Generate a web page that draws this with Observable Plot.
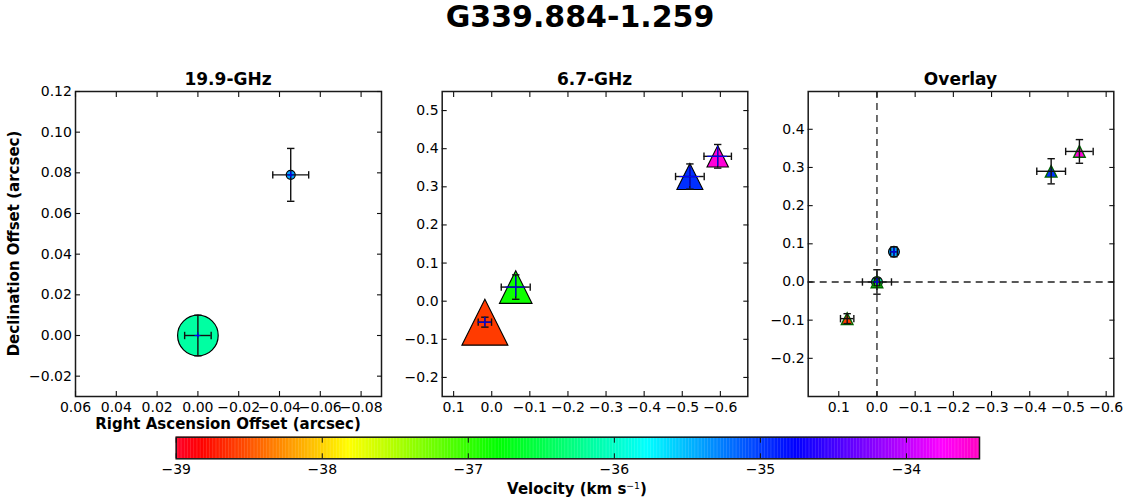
<!DOCTYPE html>
<html><head><meta charset="utf-8">
<script src="https://cdn.jsdelivr.net/npm/d3@7"></script>
<script src="https://cdn.jsdelivr.net/npm/@observablehq/plot@0.6"></script>
<style>
body{margin:0;background:#fff;}
#root{position:relative;width:1129px;height:503px;font-family:"DejaVu Sans",sans-serif;overflow:hidden;background:#fff;}
.t{position:absolute;white-space:nowrap;font-weight:bold;color:#000;text-align:center;line-height:1;}
sup{font-weight:normal;font-size:0.62em;vertical-align:0.55em;}
</style></head><body><div id="root"></div>
<script>
// ---------------- data ----------------
const mainTitle = "G339.884-1.259";
const panelTitles = ["19.9-GHz", "6.7-GHz", "Overlay"];
const xLabel = "Right Ascension Offset (arcsec)";
const yLabel = "Declination Offset (arcsec)";

// 19.9-GHz maser spots
const ra19 = [0.000, -0.0455];
const dec19 = [0.000, 0.079];
const raErr19 = [0.0065, 0.0088];
const decErr19 = [0.010, 0.013];
const vel19 = [-36.15, -35.4];
const size19 = [20.3, 4.5];

// 6.7-GHz maser spots
const ra67 = [0.018, -0.063, -0.520, -0.593];
const dec67 = [-0.055, 0.037, 0.327, 0.380];
const raErr67 = [0.0175, 0.038, 0.0376, 0.036];
const decErr67 = [0.013, 0.032, 0.033, 0.031];
const vel67 = [-38.6, -36.85, -34.95, -33.6];
const size67 = [23, 16.3, 13, 10.7];

// Overlay positions
const raOv19 = [0.000, -0.0445];
const decOv19 = [0.000, 0.079];
const raOv67 = [0.078, 0.000, -0.456, -0.530];
const decOv67 = [-0.096, 0.000, 0.290, 0.342];

// axes
const p1XTicks = [0.06, 0.04, 0.02, 0, -0.02, -0.04, -0.06, -0.08];
const p1YTicks = [-0.02, 0, 0.02, 0.04, 0.06, 0.08, 0.10, 0.12];
const p2XTicks = [0.1, 0, -0.1, -0.2, -0.3, -0.4, -0.5, -0.6];
const p2YTicks = [-0.2, -0.1, 0, 0.1, 0.2, 0.3, 0.4, 0.5];
const p3XTicks = [0.1, 0, -0.1, -0.2, -0.3, -0.4, -0.5, -0.6];
const p3YTicks = [-0.2, -0.1, 0, 0.1, 0.2, 0.3, 0.4];
const cbTicks = [-39, -38, -37, -36, -35, -34];
const velDomain = [-39, -33.5];

// gist_rainbow colormap stops
const rainbowStops = [0, 0.03, 0.215, 0.4, 0.586, 0.77, 0.954, 1];
const rainbowColors = ["rgb(255,0,41)", "rgb(255,0,0)", "rgb(255,255,0)", "rgb(0,255,0)", "rgb(0,255,255)", "rgb(0,0,255)", "rgb(255,0,255)", "rgb(255,0,191)"];

// ---------------- helpers ----------------
const colorScale = {
  type: "linear",
  domain: rainbowStops.map(t => velDomain[0] + t * (velDomain[1] - velDomain[0])),
  range: rainbowColors, interpolate: "rgb", clamp: true
};
const triSym = {draw(ctx, size) { const s = Math.sqrt(size / Math.PI); ctx.moveTo(0, -s); ctx.lineTo(s, s); ctx.lineTo(-s, s); ctx.closePath(); }};
const hCap = {draw(ctx, size) { const s = Math.sqrt(size / Math.PI); ctx.moveTo(-s, 0); ctx.lineTo(s, 0); }};
const vCap = {draw(ctx, size) { const s = Math.sqrt(size / Math.PI); ctx.moveTo(0, -s); ctx.lineTo(0, s); }};

const mk = (xs, ys, exs, eys, vs, ss) => xs.map((x, i) => ({x, y: ys[i], ex: exs[i], ey: eys[i], v: vs[i], s: ss ? ss[i] : null}));

function errMarks(data) {
  const st = {stroke: "#111", strokeWidth: 1.4};
  return [
    Plot.ruleY(data, {y: "y", x1: d => d.x - d.ex, x2: d => d.x + d.ex, ...st}),
    Plot.ruleX(data, {x: "x", y1: d => d.y - d.ey, y2: d => d.y + d.ey, ...st}),
    Plot.dot(data, {x: d => d.x - d.ex, y: "y", symbol: vCap, r: 3.7, fill: "none", ...st}),
    Plot.dot(data, {x: d => d.x + d.ex, y: "y", symbol: vCap, r: 3.7, fill: "none", ...st}),
    Plot.dot(data, {x: "x", y: d => d.y - d.ey, symbol: hCap, r: 3.7, fill: "none", ...st}),
    Plot.dot(data, {x: "x", y: d => d.y + d.ey, symbol: hCap, r: 3.7, fill: "none", ...st})
  ];
}
function crossMarks(data, capX, capY) {
  const st = {stroke: "#0000ff", strokeWidth: 1.1};
  return [
    Plot.ruleY(data, {y: "y", x1: d => d.x - Math.min(d.ex, capX), x2: d => d.x + Math.min(d.ex, capX), ...st}),
    Plot.ruleX(data, {x: "x", y1: d => d.y - Math.min(d.ey, capY), y2: d => d.y + Math.min(d.ey, capY), ...st})
  ];
}
function axisMarks(xt, yt, fmt) {
  const common = {label: null, stroke: "#111", strokeWidth: 1.1, fill: "#000", fontSize: 14};
  return [
    Plot.axisX(xt, {anchor: "bottom", tickSize: -5, tickPadding: 10.5, tickFormat: fmt, ...common}),
    Plot.axisX(xt, {anchor: "top", tickSize: -5, tickFormat: () => "", ...common}),
    Plot.axisY(yt, {anchor: "left", tickSize: -5, tickPadding: 8.6, tickFormat: fmt, ...common}),
    Plot.axisY(yt, {anchor: "right", tickSize: -5, tickFormat: () => "", ...common})
  ];
}
const svgStyle = {fontFamily: "DejaVu Sans", fontSize: "14px", color: "#000", background: "transparent", overflow: "visible"};

function place(el, left, top) {
  el.style.position = "absolute"; el.style.left = left + "px"; el.style.top = top + "px";
  root.appendChild(el);
}
function text(str, left, top, w, size, html) {
  const d = document.createElement("div");
  d.className = "t"; d.style.left = left + "px"; d.style.top = top + "px"; d.style.width = w + "px";
  d.style.fontSize = size + "px";
  if (html) d.innerHTML = str; else d.textContent = str;
  root.appendChild(d); return d;
}
const root = document.getElementById("root");

// ---------------- panel 1 ----------------
const d19 = mk(ra19, dec19, raErr19, decErr19, vel19, size19);
const d67 = mk(ra67, dec67, raErr67, decErr67, vel67, size67);
const o19 = mk(raOv19, decOv19, raErr19, decErr19, vel19, null);
const o67 = mk(raOv67, decOv67, raErr67, decErr67, vel67, null);
const f2 = d3.format(".2f"), f1 = d3.format(".1f"), fi = d3.format("d");

const p1 = Plot.plot({
  width: 390, height: 380, marginLeft: 75, marginRight: 9, marginTop: 31, marginBottom: 44,
  x: {domain: [0.06, -0.09]}, y: {domain: [-0.03, 0.12]},
  r: {type: "identity"}, color: colorScale, style: svgStyle,
  marks: [
    Plot.dot(d19, {x: "x", y: "y", r: "s", fill: "v", stroke: "#000", strokeWidth: 1.2}),
    ...errMarks(d19),
    ...crossMarks(d19, 0.0014, 0.0014),
    Plot.frame({stroke: "#1a1a1a", strokeWidth: 1.5}),
    ...axisMarks(p1XTicks, p1YTicks, f2)
  ]
});
place(p1, 0, 60);

// ---------------- panel 2 ----------------
const p2 = Plot.plot({
  width: 365, height: 380, marginLeft: 51.7, marginRight: 7.7, marginTop: 31, marginBottom: 44,
  x: {domain: [0.13, -0.672]}, y: {domain: [-0.25, 0.55]},
  r: {type: "identity"}, color: colorScale, style: svgStyle,
  marks: [
    Plot.dot(d67, {x: "x", y: "y", r: "s", symbol: triSym, fill: "v", stroke: "#000", strokeWidth: 1.1}),
    ...errMarks(d67),
    ...crossMarks(d67, 0.026, 0.026),
    Plot.frame({stroke: "#1a1a1a", strokeWidth: 1.5}),
    ...axisMarks(p2XTicks, p2YTicks, f1)
  ]
});
place(p2, 390, 60);

// ---------------- panel 3 ----------------
const p3 = Plot.plot({
  width: 374, height: 380, marginLeft: 52.7, marginRight: 15.7, marginTop: 31, marginBottom: 44,
  x: {domain: [0.18, -0.62]}, y: {domain: [-0.3, 0.499]},
  r: {type: "identity"}, color: colorScale, style: svgStyle,
  marks: [
    Plot.ruleX([0], {stroke: "#222", strokeWidth: 1.3, strokeDasharray: "7,5"}),
    Plot.ruleY([0], {stroke: "#222", strokeWidth: 1.3, strokeDasharray: "7,5"}),
    Plot.dot(o19, {x: "x", y: "y", r: 5.4, fill: "v", stroke: "#000", strokeWidth: 1.2}),
    Plot.dot(o67, {x: "x", y: "y", r: 5.8, symbol: triSym, fill: "v", stroke: "#006400", strokeWidth: 1.4}),
    ...errMarks(o67),
    ...errMarks(o19),
    ...crossMarks(o19, 0.009, 0.009),
    Plot.frame({stroke: "#1a1a1a", strokeWidth: 1.5}),
    ...axisMarks(p3XTicks, p3YTicks, f1)
  ]
});
place(p3, 755, 60);

// ---------------- colorbar ----------------
const cbCells = d3.range(velDomain[0], velDomain[1], 0.01);
const cb = Plot.plot({
  width: 860, height: 78, marginLeft: 25.7, marginRight: 31, marginTop: 11.7, marginBottom: 44.7,
  x: {domain: velDomain}, y: {domain: [0, 1], axis: null},
  color: colorScale, style: svgStyle,
  marks: [
    Plot.rect(cbCells, {x1: d => d, x2: d => Math.min(d + 0.012, velDomain[1]), y1: 0, y2: 1, fill: d => d}),
    Plot.frame({stroke: "#1a1a1a", strokeWidth: 1.5}),
    Plot.axisX(cbTicks, {anchor: "bottom", tickSize: -5, tickPadding: 10, tickFormat: fi, label: null, stroke: "#111", fill: "#000", fontSize: 14}),
    Plot.axisX(cbTicks, {anchor: "top", tickSize: -5, tickFormat: () => "", label: null, stroke: "#111"})
  ]
});
place(cb, 150, 425);

// ---------------- texts ----------------
text(mainTitle, 280, 2, 600, 30);
text(panelTitles[0], 128, 70.6, 200, 17);
text(panelTitles[1], 494.5, 70.6, 200, 17);
text(panelTitles[2], 860.5, 70.6, 200, 17);
text(xLabel, 28, 417.3, 400, 15);
const yl = text(yLabel, -135.7, 235.5, 300, 15);
yl.style.transform = "rotate(-90deg)";
text("Velocity (km s<sup>\u22121</sup>)", 427, 481.3, 300, 15, true);
</script></body></html>
